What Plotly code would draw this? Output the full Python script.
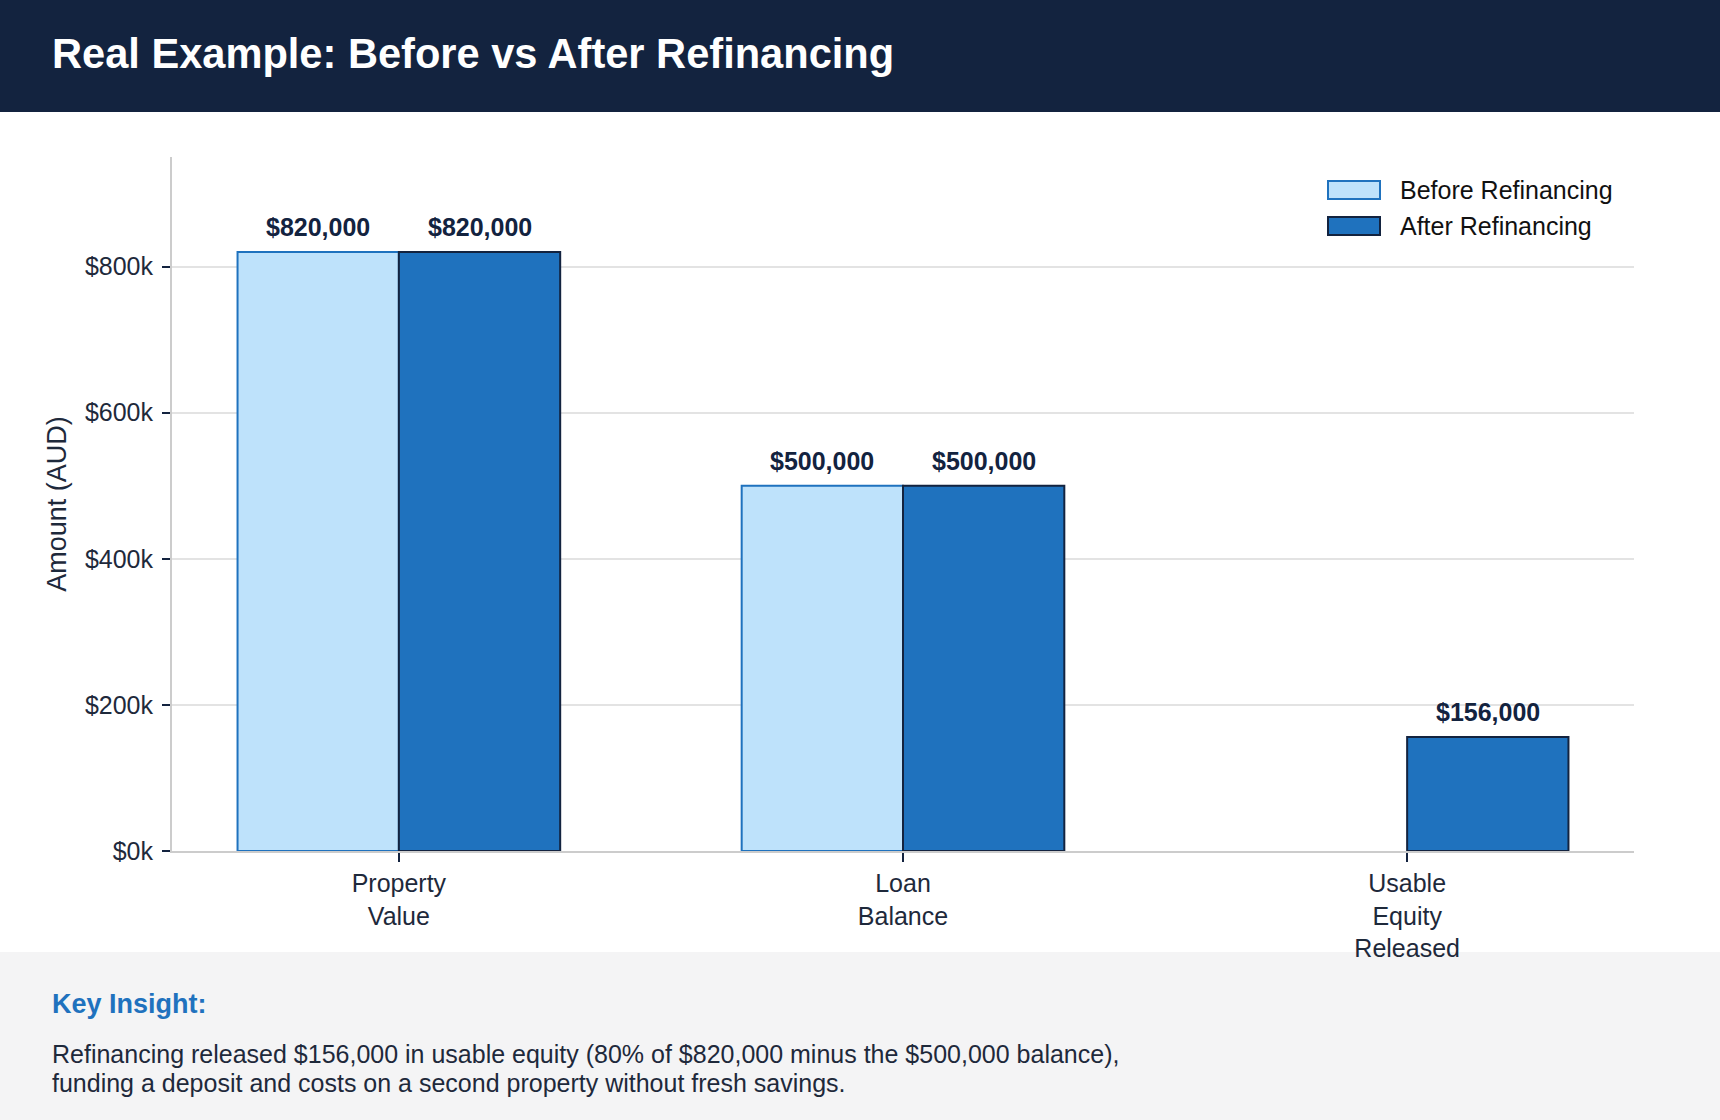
import plotly.graph_objects as go

categories = ["Property<br>Value", "Loan<br>Balance", "Usable<br>Equity<br>Released"]
before_values = [820000, 500000, None]
after_values = [820000, 500000, 156000]
series_names = ["Before Refinancing", "After Refinancing"]
y_tick_vals = [0, 200000, 400000, 600000, 800000]
y_tick_text = ["$0k", "$200k", "$400k", "$600k", "$800k"]
title_text = "Real Example: Before vs After Refinancing"
insight_title = "Key Insight:"
insight_lines = [
    "Refinancing released $156,000 in usable equity (80% of $820,000 minus the $500,000 balance),",
    "funding a deposit and costs on a second property without fresh savings.",
]

W, H = 1720, 1120
L, R, T, B = 172, 1634, 157, 851

def px(x):
    return (x - L) / (R - L)

def py(y):
    return (B - y) / (B - T)

NAVY = "#13233F"
BLUE = "#1F72BE"
LIGHT = "#BEE2FB"
TXT = "#1E293B"
FONT = "Liberation Sans, Arial, sans-serif"
FS = 25
BAR_W = 0.32

fig = go.Figure()
fig.add_trace(go.Bar(
    x=categories, y=before_values, name=series_names[0],
    marker=dict(color=LIGHT, line=dict(color=BLUE, width=2)),
    showlegend=False, hoverinfo="skip",
))
fig.add_trace(go.Bar(
    x=categories, y=after_values, name=series_names[1],
    marker=dict(color=BLUE, line=dict(color=NAVY, width=2)),
    showlegend=False, hoverinfo="skip",
))

shapes = [
    dict(type="rect", xref="paper", yref="paper", x0=px(0), x1=px(W), y0=py(0), y1=py(112),
         fillcolor=NAVY, line=dict(width=0), layer="below"),
    dict(type="rect", xref="paper", yref="paper", x0=px(0), x1=px(W), y0=py(952), y1=py(H),
         fillcolor="#F4F4F5", line=dict(width=0), layer="below"),
    dict(type="rect", xref="paper", yref="paper", x0=px(1328), x1=px(1380), y0=py(199), y1=py(181),
         fillcolor=LIGHT, line=dict(color=BLUE, width=2)),
    dict(type="rect", xref="paper", yref="paper", x0=px(1328), x1=px(1380), y0=py(235), y1=py(217),
         fillcolor=BLUE, line=dict(color=NAVY, width=2)),
]

annotations = [
    dict(xref="paper", yref="paper", x=px(1398), y=py(190), text=series_names[0], showarrow=False,
         xanchor="left", yanchor="middle", font=dict(size=FS, color="#111111", family=FONT)),
    dict(xref="paper", yref="paper", x=px(1398), y=py(226), text=series_names[1], showarrow=False,
         xanchor="left", yanchor="middle", font=dict(size=FS, color="#111111", family=FONT)),
    dict(xref="paper", yref="paper", x=px(50), y=py(1004), text="<b>" + insight_title + "</b>",
         showarrow=False, xanchor="left", yanchor="middle",
         font=dict(size=27, color=BLUE, family=FONT)),
    dict(xref="paper", yref="paper", x=px(50), y=py(1054), text=insight_lines[0],
         showarrow=False, xanchor="left", yanchor="middle",
         font=dict(size=FS, color=TXT, family=FONT)),
    dict(xref="paper", yref="paper", x=px(50), y=py(1083), text=insight_lines[1],
         showarrow=False, xanchor="left", yanchor="middle",
         font=dict(size=FS, color=TXT, family=FONT)),
]

# value labels above bars, placed on the data axes
for offset, vals in ((-BAR_W / 2, before_values), (BAR_W / 2, after_values)):
    for i, v in enumerate(vals):
        if v is None:
            continue
        annotations.append(dict(
            xref="x", yref="y", x=i + offset, y=v, text="<b>${:,.0f}</b>".format(v),
            showarrow=False, xanchor="center", yanchor="middle", yshift=25,
            font=dict(size=FS, color=NAVY, family=FONT)))

fig.update_layout(
    width=W, height=H,
    margin=dict(l=L, r=W - R, t=T, b=H - B, pad=0),
    paper_bgcolor="white", plot_bgcolor="white",
    barmode="group", bargap=0.36, bargroupgap=0,
    font=dict(family=FONT, color=TXT, size=FS),
    title=dict(text="<b>" + title_text + "</b>", x=52 / W, xanchor="left", xref="container",
               y=1 - 53 / H, yanchor="middle", yref="container",
               font=dict(size=41.6, color="white", family=FONT)),
    shapes=shapes, annotations=annotations,
    xaxis=dict(range=[-0.45, 2.45], showline=True, linecolor="#CCCCCC", linewidth=2,
               ticks="outside", ticklen=9, tickwidth=1.5, tickcolor=NAVY,
               tickfont=dict(size=FS, color=TXT), showgrid=False, zeroline=False),
    yaxis=dict(range=[0, 950000], tickvals=y_tick_vals, ticktext=y_tick_text,
               showline=True, linecolor="#CCCCCC", linewidth=2,
               ticks="outside", ticklen=8, tickwidth=2, tickcolor=NAVY,
               tickfont=dict(size=FS, color=TXT), ticklabelstandoff=4,
               showgrid=True, gridcolor="#E3E3E3", gridwidth=1.5, zeroline=False,
               title=dict(text="Amount (AUD)", font=dict(size=27, color=TXT), standoff=10)),
)

fig.write_html("out.html")
